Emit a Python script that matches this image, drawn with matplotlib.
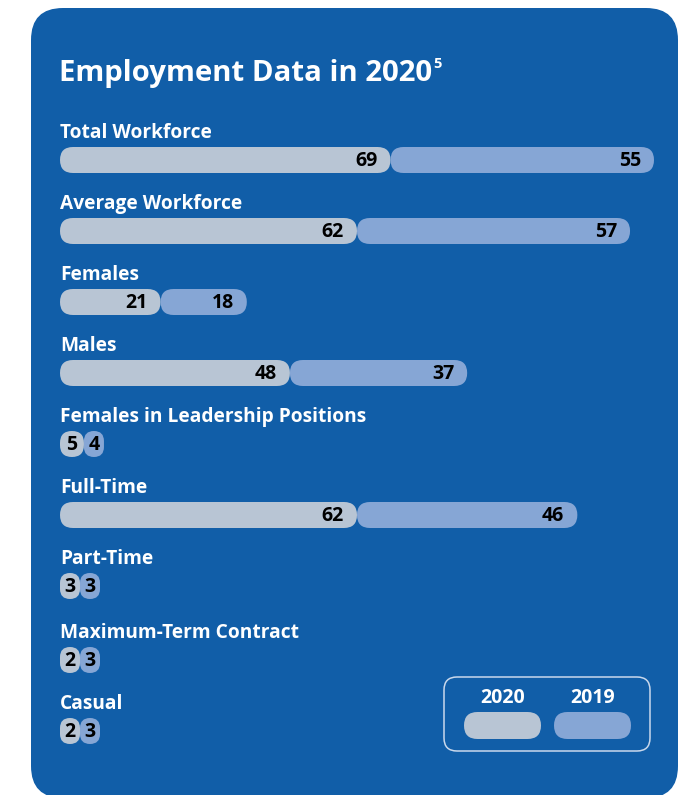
import matplotlib
matplotlib.use('Agg')
import matplotlib.pyplot as plt
from matplotlib.patches import FancyBboxPatch

plt.rcParams['font.family'] = ['Open Sans', 'DejaVu Sans']

# data
categories = ['Total Workforce', 'Average Workforce', 'Females', 'Males',
              'Females in Leadership Positions', 'Full-Time', 'Part-Time',
              'Maximum-Term Contract', 'Casual']
vals_2020 = [69, 62, 21, 48, 5, 62, 3, 2, 2]
vals_2019 = [55, 57, 18, 37, 4, 46, 3, 3, 3]
series = ['2020', '2019']

W, H = 681, 795
panel_col = '#115EA8'
col20 = '#B8C5D4'
col19 = '#86A6D5'

fig = plt.figure(figsize=(W / 100, H / 100), dpi=100)
fig.patch.set_facecolor('white')

# background axes in pixel units
ax = fig.add_axes([0, 0, 1, 1])
ax.set_xlim(0, W)
ax.set_ylim(H, 0)
ax.axis('off')

panel = FancyBboxPatch((31, 8), 647, 790, boxstyle='round,pad=0,rounding_size=32',
                       fc=panel_col, ec='none')
ax.add_patch(panel)

t = ax.text(59, 73, 'Employment Data in 2020', color='white', fontsize=21.2,
            fontweight='bold', va='center', ha='left')
fig.canvas.draw()
bb = t.get_window_extent().transformed(ax.transData.inverted())
ax.text(bb.x1 + 1, 64, '5', color='white', fontsize=10.5, fontweight='bold',
        va='center', ha='left')

# bar axes: x in data units, y in row index
x0_px, x1_px = 60, 654
row_px = 71
top_px = 160 - row_px / 2
n = len(categories)
xmax = vals_2020[0] + vals_2019[0]
bx = fig.add_axes([x0_px / W, 1 - (top_px + n * row_px) / H,
                   (x1_px - x0_px) / W, n * row_px / H])
bx.set_xlim(0, xmax)
bx.set_ylim(n - 0.5, -0.5)
bx.axis('off')
bx.patch.set_alpha(0)

px_x = (x1_px - x0_px) / xmax
bar_h_px = 26
bh = bar_h_px / row_px
ma = px_x / row_px
min_w = 20 / px_x


def pill(a, left, yc, w, color):
    r = min(bar_h_px / 2 / px_x, w / 2)
    p = FancyBboxPatch((left, yc - bh / 2), w, bh,
                       boxstyle=f'round,pad=0,rounding_size={r}',
                       mutation_aspect=ma, fc=color, ec='none')
    a.add_patch(p)


for i, cat in enumerate(categories):
    yc = i + (3 / row_px if i >= 7 else 0)
    bx.text(0, yc - 27 / row_px, cat, color='white', fontsize=13.8,
            fontweight='bold', va='center', ha='left')
    left = 0
    for v, c in ((vals_2020[i], col20), (vals_2019[i], col19)):
        w = max(v, min_w)
        pill(bx, left, yc, w, c)
        if w * px_x > 40:
            bx.text(left + w - 13 / px_x, yc + 0.01, str(v), color='black',
                    fontsize=14, fontweight='bold', ha='right', va='center')
        else:
            bx.text(left + w / 2, yc + 0.01, str(v), color='black',
                    fontsize=14, fontweight='bold', ha='center', va='center')
        left += w

# legend
leg = FancyBboxPatch((444, 677), 206, 74, boxstyle='round,pad=0,rounding_size=13',
                     fc='none', ec='#C9D8EC', lw=1.1)
ax.add_patch(leg)
for k, (name, c) in enumerate(zip(series, (col20, col19))):
    lx = 464 + k * 90
    ax.add_patch(FancyBboxPatch((lx, 712), 77, 27,
                                boxstyle='round,pad=0,rounding_size=13.5',
                                fc=c, ec='none'))
    ax.text(lx + 38.5, 698, name, color='white', fontsize=14,
            fontweight='bold', ha='center', va='center')

fig.savefig('out.png', dpi=100, facecolor='white')
